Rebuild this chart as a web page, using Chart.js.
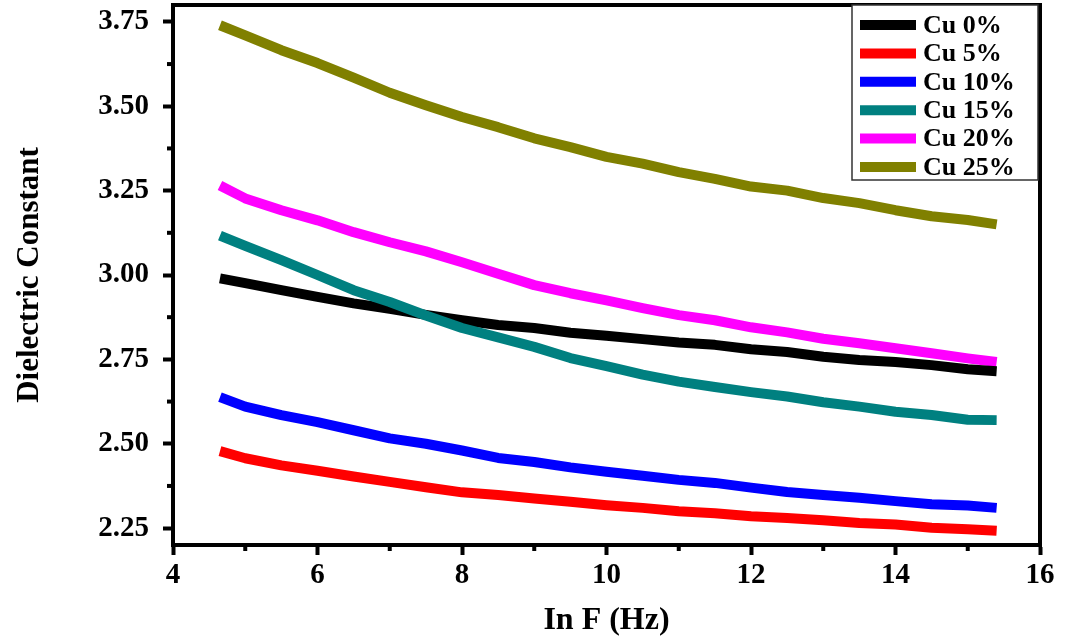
<!DOCTYPE html>
<html>
<head>
<meta charset="utf-8">
<script src="https://cdn.jsdelivr.net/npm/chart.js@4.4.1/dist/chart.umd.min.js"></script>
<style>
html,body{margin:0;padding:0;background:#ffffff;}
#wrap{width:1066px;height:640px;position:relative;}
</style>
</head>
<body>
<div id="wrap"><canvas id="c" width="1066" height="640"></canvas></div>
<script>
// ---- data ----
const lnF  = [4.65, 5.0, 5.5, 6.0, 6.5, 7.0, 7.5, 8.0, 8.5, 9.0, 9.5, 10.0, 10.5, 11.0, 11.5, 12.0, 12.5, 13.0, 13.5, 14.0, 14.5, 15.0, 15.4];
const cu0  = [2.990, 2.976, 2.955, 2.935, 2.916, 2.900, 2.882, 2.866, 2.852, 2.843, 2.829, 2.820, 2.810, 2.800, 2.793, 2.780, 2.772, 2.758, 2.748, 2.742, 2.733, 2.721, 2.715];
const cu5  = [2.478, 2.457, 2.436, 2.420, 2.403, 2.387, 2.371, 2.356, 2.348, 2.338, 2.328, 2.318, 2.310, 2.300, 2.294, 2.285, 2.280, 2.273, 2.265, 2.261, 2.251, 2.247, 2.242];
const cu10 = [2.638, 2.610, 2.585, 2.564, 2.540, 2.516, 2.500, 2.480, 2.458, 2.446, 2.430, 2.417, 2.405, 2.393, 2.384, 2.370, 2.357, 2.348, 2.340, 2.330, 2.321, 2.317, 2.310];
const cu15 = [3.117, 3.086, 3.044, 3.000, 2.955, 2.920, 2.880, 2.843, 2.815, 2.787, 2.754, 2.730, 2.705, 2.684, 2.668, 2.653, 2.640, 2.623, 2.610, 2.595, 2.585, 2.571, 2.570];
const cu20 = [3.265, 3.227, 3.192, 3.162, 3.127, 3.097, 3.070, 3.038, 3.004, 2.970, 2.946, 2.925, 2.902, 2.881, 2.866, 2.845, 2.830, 2.811, 2.798, 2.783, 2.768, 2.753, 2.742];
const cu25 = [3.740, 3.710, 3.666, 3.628, 3.585, 3.540, 3.503, 3.468, 3.438, 3.405, 3.379, 3.350, 3.330, 3.305, 3.285, 3.262, 3.250, 3.228, 3.213, 3.192, 3.174, 3.163, 3.150];

const seriesLabels = ['Cu 0%', 'Cu 5%', 'Cu 10%', 'Cu 15%', 'Cu 20%', 'Cu 25%'];
const seriesValues = [cu0, cu5, cu10, cu15, cu20, cu25];
const seriesColors = ['#000000', '#ff0000', '#0000ff', '#008080', '#ff00ff', '#808000'];

const xTickValues  = [4, 6, 8, 10, 12, 14, 16];
const xMinorTicks  = [5, 7, 9, 11, 13, 15];
const yTickValues  = [2.25, 2.50, 2.75, 3.00, 3.25, 3.50, 3.75];
const yMinorTicks  = [2.375, 2.625, 2.875, 3.125, 3.375, 3.625];

const xTitle = 'In F (Hz)';
const yTitle = 'Dielectric Constant';

// ---- chart ----
const SERIF = '"Liberation Serif", "Times New Roman", serif';

const datasets = seriesValues.map((vals, i) => ({
  label: seriesLabels[i],
  data: lnF.map((x, j) => ({x: x, y: vals[j]})),
  borderColor: seriesColors[i],
  backgroundColor: seriesColors[i],
  borderWidth: 10,
  borderCapStyle: 'butt',
  borderJoinStyle: 'round',
  pointRadius: 0,
  fill: false,
  tension: 0,
  order: i === 3 ? -1 : 0
}));

const framePlugin = {
  id: 'frameAndLegend',
  afterDraw(chart) {
    const {ctx, chartArea: a, scales: {x, y}} = chart;
    ctx.save();
    ctx.strokeStyle = '#000';
    ctx.lineCap = 'square';
    // top and right frame
    ctx.lineWidth = 4;
    ctx.beginPath();
    ctx.moveTo(a.left, a.top);
    ctx.lineTo(a.right, a.top);
    ctx.lineTo(a.right, a.bottom);
    ctx.stroke();
    // minor ticks
    ctx.lineCap = 'butt';
    ctx.lineWidth = 4;
    xMinorTicks.forEach(v => {
      const px = x.getPixelForValue(v);
      ctx.beginPath(); ctx.moveTo(px, a.bottom); ctx.lineTo(px, a.bottom + 6); ctx.stroke();
    });
    yMinorTicks.forEach(v => {
      const py = y.getPixelForValue(v);
      ctx.beginPath(); ctx.moveTo(a.left, py); ctx.lineTo(a.left - 6, py); ctx.stroke();
    });
    // legend box
    const bw = 186, bh = 175;
    const bx = a.right - 188, by = a.top;
    ctx.fillStyle = '#fff';
    ctx.fillRect(bx, by, bw, bh);
    ctx.lineWidth = 1.5;
    ctx.strokeStyle = '#333';
    ctx.strokeRect(bx, by, bw, bh);
    ctx.font = 'bold 26px ' + SERIF;
    ctx.textBaseline = 'middle';
    ctx.textAlign = 'left';
    chart.data.datasets.forEach((ds, i) => {
      const ry = by + 20 + i * 28.4;
      ctx.strokeStyle = ds.borderColor;
      ctx.lineWidth = 10;
      ctx.beginPath(); ctx.moveTo(bx + 8, ry); ctx.lineTo(bx + 64, ry); ctx.stroke();
      ctx.fillStyle = '#000';
      ctx.fillText(ds.label, bx + 71, ry + 1);
    });
    ctx.restore();
  }
};

new Chart(document.getElementById('c'), {
  type: 'line',
  data: {datasets: datasets},
  options: {
    responsive: false,
    animation: false,
    devicePixelRatio: 1,
    layout: {padding: {top: 5, right: 26, left: 0, bottom: 0}},
    plugins: {legend: {display: false}, tooltip: {enabled: false}},
    scales: {
      x: {
        type: 'linear',
        min: 4, max: 16,
        afterFit: s => { s.height = 95; s.paddingLeft = 0; s.paddingRight = 0; },
        afterBuildTicks: s => { s.ticks = xTickValues.map(v => ({value: v})); },
        grid: {drawOnChartArea: false, drawTicks: true, tickLength: 10, tickWidth: 4, tickColor: '#000'},
        border: {display: true, width: 4, color: '#000'},
        ticks: {
          padding: 3,
          color: '#000',
          font: {family: SERIF, size: 29, weight: 'bold'},
          maxRotation: 0,
          callback: v => String(v)
        },
        title: {display: true, text: xTitle, color: '#000', padding: {top: 0, bottom: 0},
                font: {family: SERIF, size: 32, weight: 'bold'}}
      },
      y: {
        type: 'linear',
        min: 2.20, max: 3.80,
        afterFit: s => { s.width = 173; s.paddingTop = 0; s.paddingBottom = 0; },
        afterBuildTicks: s => { s.ticks = yTickValues.map(v => ({value: v})); },
        grid: {drawOnChartArea: false, drawTicks: true, tickLength: 10, tickWidth: 4, tickColor: '#000'},
        border: {display: true, width: 4, color: '#000'},
        ticks: {
          padding: 14,
          color: '#000',
          font: {family: SERIF, size: 29, weight: 'bold'},
          callback: v => Number(v).toFixed(2)
        },
        title: {display: true, text: yTitle, color: '#000', padding: {top: 11, bottom: 0},
                font: {family: SERIF, size: 31, weight: 'bold'}}
      }
    }
  },
  plugins: [framePlugin]
});
</script>
</body>
</html>
